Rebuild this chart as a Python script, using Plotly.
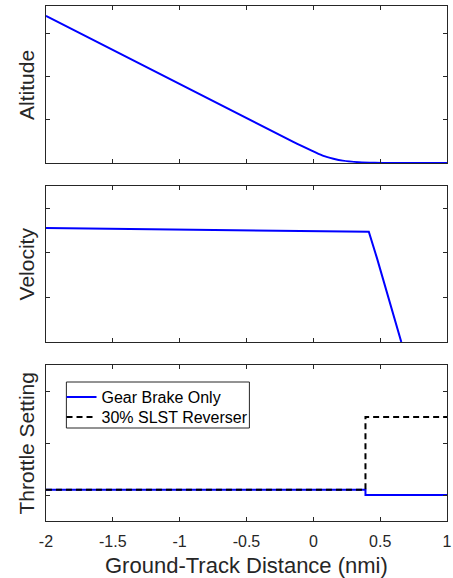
import plotly.graph_objects as go

# ---- data ----
alt_x = [-2.0, -0.15, 0.0, 0.075, 0.15, 0.22, 0.34, 0.46, 0.6, 0.8, 1.0]
alt_y = [3.42, 0.49, 0.27, 0.165, 0.10, 0.055, 0.02, 0.005, 0.0, 0.0, 0.0]

vel_x = [-2.0, 0.415, 0.476, 0.549, 0.597, 0.658]
vel_y = [2.555, 2.475, 1.881, 1.130, 0.607, 0.0]

thr_x = [-2.0, 0.39, 0.39, 1.0]
gear_y = [0.1, 0.1, 0.0, 0.0]
rev_y = [0.1, 0.1, 1.5, 1.5]

x_ticks = [-2, -1.5, -1, -0.5, 0, 0.5, 1]
x_tick_text = ["-2", "-1.5", "-1", "-0.5", "0", "0.5", "1"]
y_titles = ["Altitude", "Velocity", "Throttle Setting"]
x_title = "Ground-Track Distance (nmi)"
legend_names = ["Gear Brake Only", "30% SLST Reverser"]

W, H = 453, 578
FONT = "Liberation Sans, Arial, Helvetica, sans-serif"
AX = "#262626"
BLUE = "#0000ff"

fig = go.Figure()
fig.add_trace(go.Scatter(x=alt_x, y=alt_y, mode="lines",
                         line=dict(color=BLUE, width=2, shape="spline", smoothing=0.8),
                         xaxis="x", yaxis="y", showlegend=False))
fig.add_trace(go.Scatter(x=vel_x, y=vel_y, mode="lines", line=dict(color=BLUE, width=2),
                         xaxis="x2", yaxis="y2", showlegend=False))
fig.add_trace(go.Scatter(x=thr_x, y=gear_y, mode="lines", name=legend_names[0],
                         line=dict(color=BLUE, width=2), xaxis="x3", yaxis="y3",
                         legend="legend"))
fig.add_trace(go.Scatter(x=thr_x, y=rev_y, mode="lines", name=legend_names[1],
                         line=dict(color="black", width=2, dash="6px,4px"),
                         xaxis="x3", yaxis="y3", legend="legend2"))

xdom = [40 / W, 452 / W]

def ydom(top, bottom):
    return [1 - bottom / H, 1 - top / H]

common_x = dict(range=[-2, 1], domain=xdom, showline=True, mirror="allticks",
                linecolor=AX, linewidth=1, ticks="inside", ticklen=4, tickcolor=AX,
                tickvals=x_ticks, ticktext=x_tick_text, showgrid=False, zeroline=False,
                tickfont=dict(family=FONT, size=16, color=AX), ticklabeloverflow="allow")
common_y = dict(showline=True, mirror="allticks", linecolor=AX, linewidth=1,
                ticks="inside", ticklen=4, tickcolor=AX, showticklabels=False,
                showgrid=False, zeroline=False)

panels = [(6, 163), (186, 342), (365, 521)]

leg_common = dict(xanchor="left", yanchor="middle", bgcolor="rgba(0,0,0,0)",
                  borderwidth=0, font=dict(family=FONT, size=16, color="black"),
                  itemwidth=30)

fig.update_layout(
    width=W, height=H,
    margin=dict(l=0, r=0, t=0, b=0),
    paper_bgcolor="white", plot_bgcolor="white",
    font=dict(family=FONT, color=AX),
    xaxis=dict(common_x, anchor="y", showticklabels=False),
    xaxis2=dict(common_x, anchor="y2", showticklabels=False),
    xaxis3=dict(common_x, anchor="y3", showticklabels=True, ticklabelstandoff=6),
    yaxis=dict(common_y, domain=ydom(*panels[0]), range=[0, 3.65], tickvals=[0, 1, 2, 3], anchor="x"),
    yaxis2=dict(common_y, domain=ydom(*panels[1]), range=[0, 3.5], tickvals=[0, 1, 2, 3], anchor="x2"),
    yaxis3=dict(common_y, domain=ydom(*panels[2]), range=[-0.5, 2.5], tickvals=[0, 1, 2], anchor="x3"),
    legend=dict(leg_common, x=56 / W, y=1 - 397 / H),
    legend2=dict(leg_common, x=56 / W, y=1 - 417 / H),
    shapes=[dict(type="rect", xref="paper", yref="paper",
                 x0=61 / W, x1=249 / W, y0=1 - 428 / H, y1=1 - 382 / H,
                 line=dict(color=AX, width=1), fillcolor="white", layer="below")],
)

annotations = []
for title, (top, bottom) in zip(y_titles, panels):
    annotations.append(dict(text=title, x=20 / W, y=1 - (top + bottom) / 2 / H,
                            xref="paper", yref="paper", showarrow=False, textangle=-90,
                            xanchor="center", yanchor="middle",
                            font=dict(family=FONT, size=21, color=AX)))
annotations.append(dict(text=x_title, x=(40 + 452) / 2 / W, y=1 - 565 / H,
                        xref="paper", yref="paper", showarrow=False,
                        xanchor="center", yanchor="middle",
                        font=dict(family=FONT, size=22, color=AX)))
fig.update_layout(annotations=annotations)

fig.write_html("out.html")
